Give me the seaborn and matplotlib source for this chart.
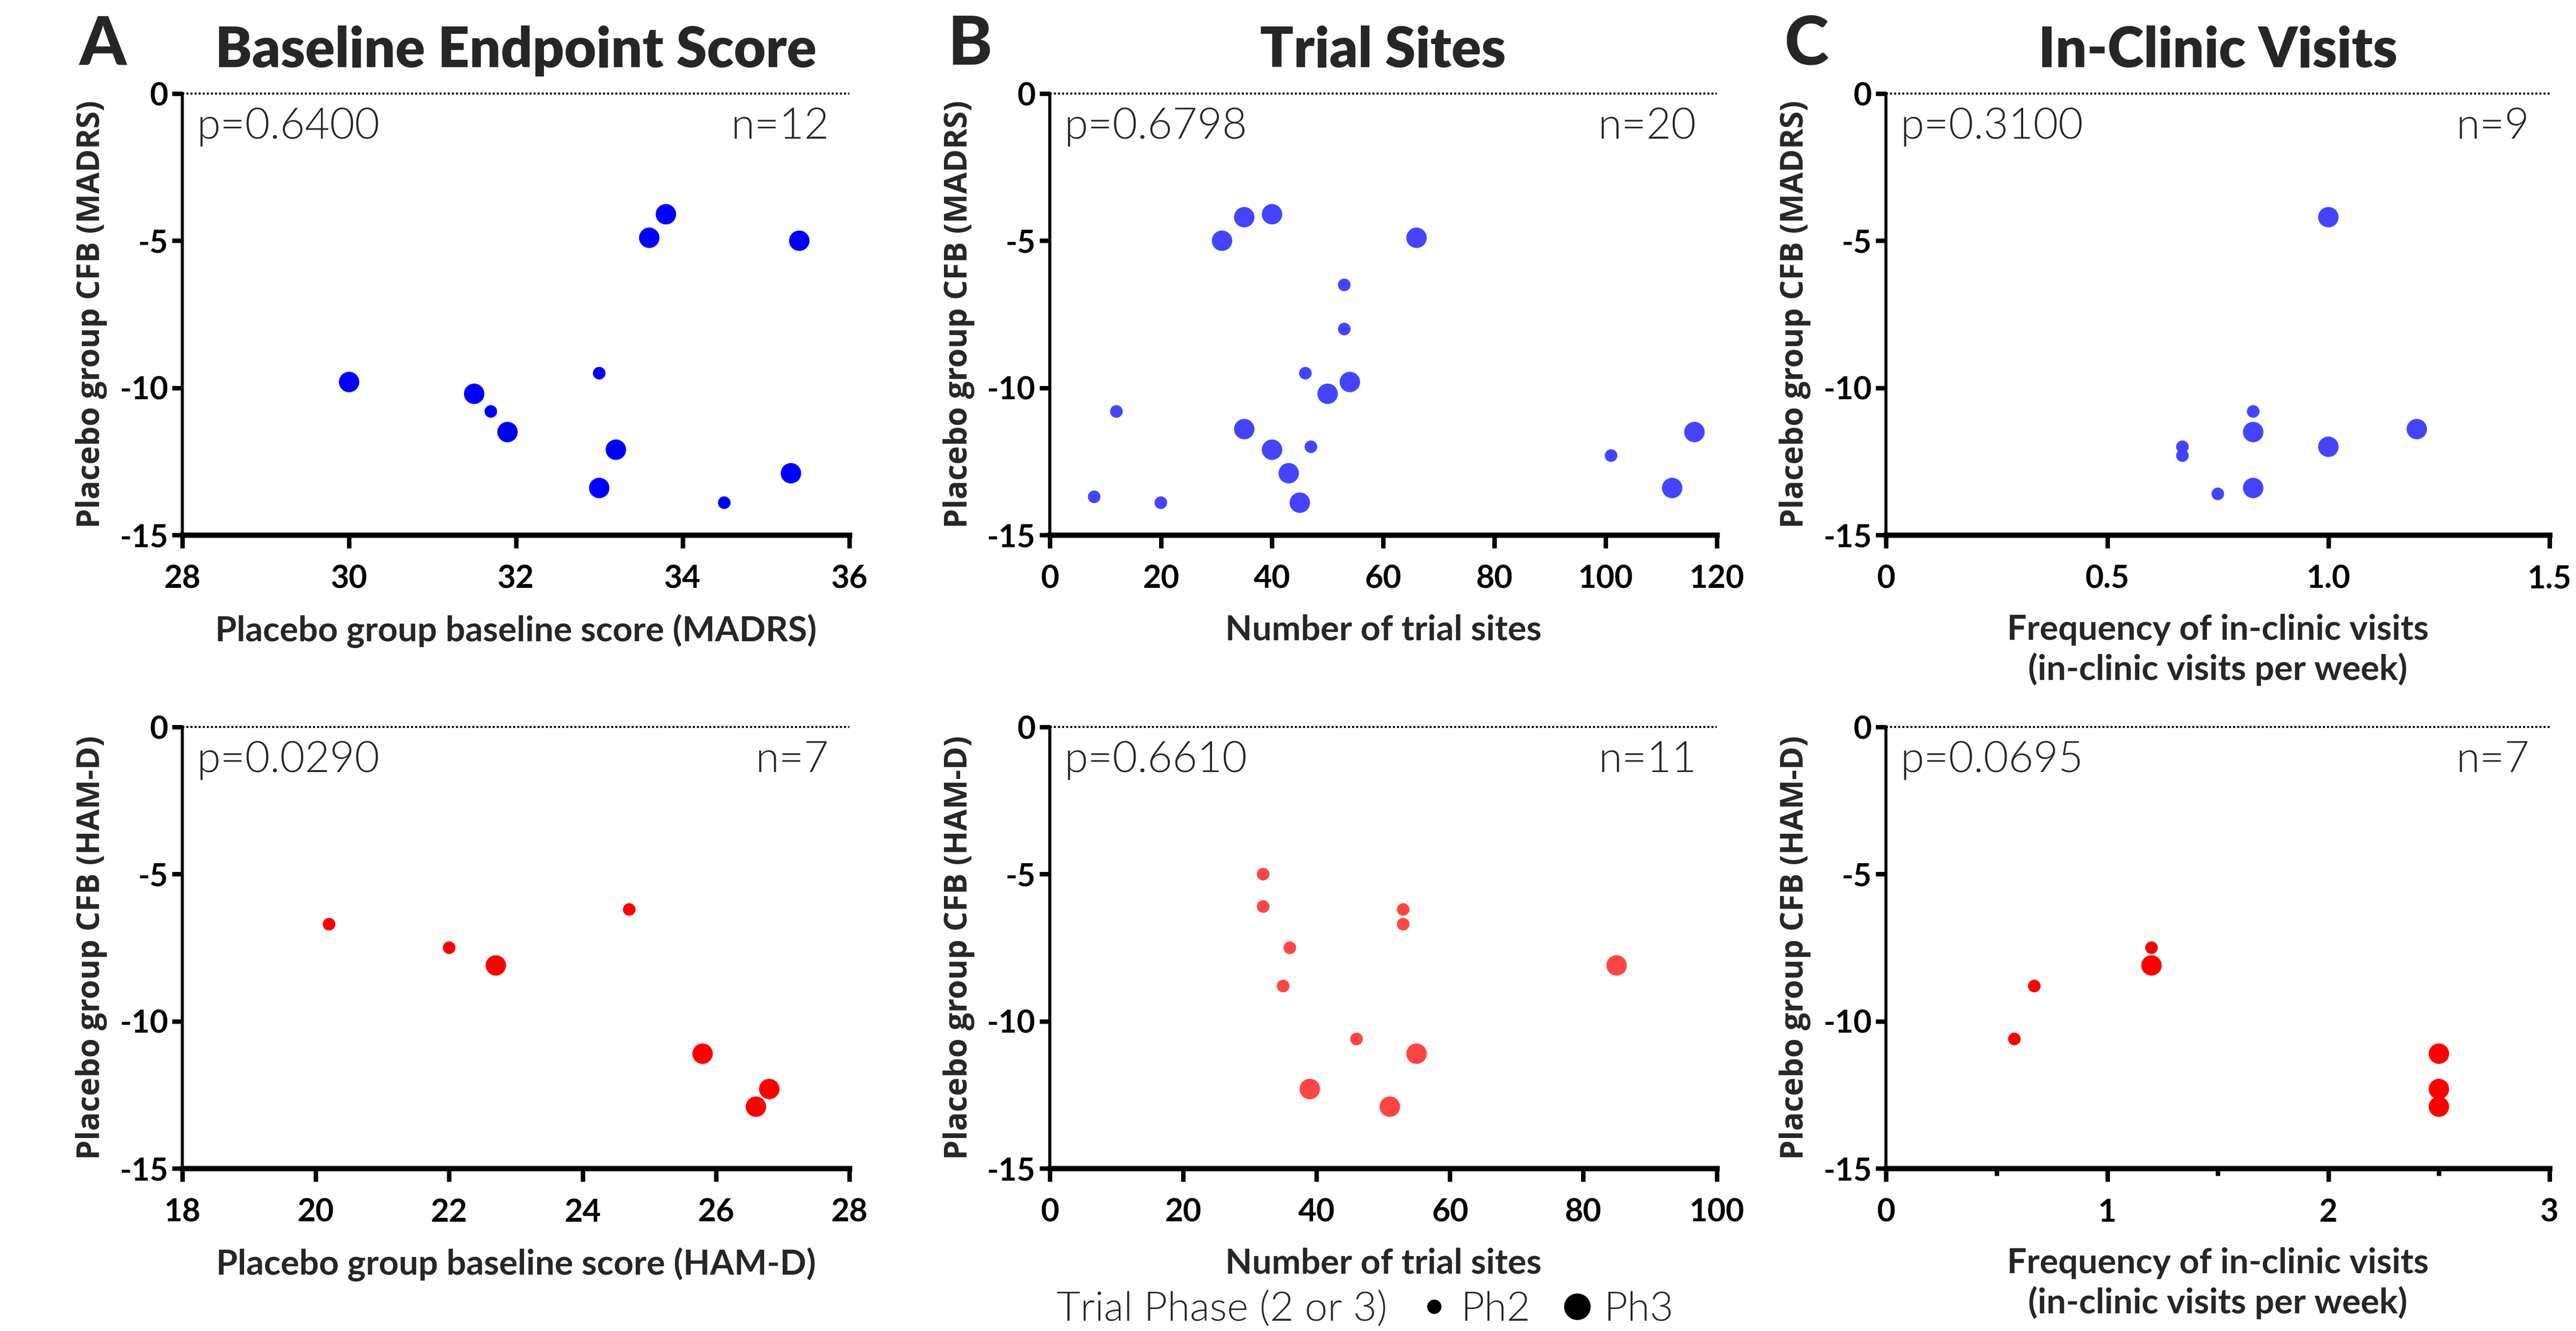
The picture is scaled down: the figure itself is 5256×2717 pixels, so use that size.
import numpy as np
import pandas as pd
import matplotlib
matplotlib.use("Agg")
import matplotlib.pyplot as plt
from matplotlib.lines import Line2D
from matplotlib.ticker import FixedLocator
import seaborn as sns

# ---------------- data ----------------
# Panel A (baseline score)
a_top_x = [30.0, 31.5, 31.7, 31.9, 33.0, 33.0, 33.2, 33.6, 33.8, 34.5, 35.3, 35.4]
a_top_y = [-9.8, -10.2, -10.8, -11.5, -9.5, -13.4, -12.1, -4.9, -4.1, -13.9, -12.9, -5.0]
a_top_ph = ["Ph3", "Ph3", "Ph2", "Ph3", "Ph2", "Ph3", "Ph3", "Ph3", "Ph3", "Ph2", "Ph3", "Ph3"]

a_bot_x = [20.2, 22.0, 22.7, 24.7, 25.8, 26.8, 26.6]
a_bot_y = [-6.7, -7.5, -8.1, -6.2, -11.1, -12.3, -12.9]
a_bot_ph = ["Ph2", "Ph2", "Ph3", "Ph2", "Ph3", "Ph3", "Ph3"]

# Panel B (trial sites)
b_top_x = [8, 12, 20, 31, 35, 40, 35, 40, 43, 45, 46, 47, 50, 53, 53, 54, 66, 101, 112, 116]
b_top_y = [-13.7, -10.8, -13.9, -5.0, -4.2, -4.1, -11.4, -12.1, -12.9, -13.9,
           -9.5, -12.0, -10.2, -6.5, -8.0, -9.8, -4.9, -12.3, -13.4, -11.5]
b_top_ph = ["Ph2", "Ph2", "Ph2", "Ph3", "Ph3", "Ph3", "Ph3", "Ph3", "Ph3", "Ph3",
            "Ph2", "Ph2", "Ph3", "Ph2", "Ph2", "Ph3", "Ph3", "Ph2", "Ph3", "Ph3"]

b_bot_x = [32, 32, 36, 35, 53, 53, 46, 55, 39, 51, 85]
b_bot_y = [-5.0, -6.1, -7.5, -8.8, -6.2, -6.7, -10.6, -11.1, -12.3, -12.9, -8.1]
b_bot_ph = ["Ph2", "Ph2", "Ph2", "Ph2", "Ph2", "Ph2", "Ph2", "Ph3", "Ph3", "Ph3", "Ph3"]

# Panel C (in-clinic visits per week)
c_top_x = [0.67, 0.67, 0.75, 0.83, 0.83, 0.83, 1.0, 1.0, 1.2]
c_top_y = [-12.0, -12.3, -13.6, -10.8, -11.5, -13.4, -4.2, -12.0, -11.4]
c_top_ph = ["Ph2", "Ph2", "Ph2", "Ph2", "Ph3", "Ph3", "Ph3", "Ph3", "Ph3"]

c_bot_x = [0.58, 0.67, 1.2, 1.2, 2.5, 2.5, 2.5]
c_bot_y = [-10.6, -8.8, -7.5, -8.1, -11.1, -12.3, -12.9]
c_bot_ph = ["Ph2", "Ph2", "Ph2", "Ph3", "Ph3", "Ph3", "Ph3"]

titles = ["Baseline Endpoint Score", "Trial Sites", "In-Clinic Visits"]
letters = ["A", "B", "C"]
p_top = ["p=0.6400", "p=0.6798", "p=0.3100"]
p_bot = ["p=0.0290", "p=0.6610", "p=0.0695"]
n_top = ["n=12", "n=20", "n=9"]
n_bot = ["n=7", "n=11", "n=7"]
xlabels_top = ["Placebo group baseline score (MADRS)", "Number of trial sites",
               "Frequency of in-clinic visits\n(in-clinic visits per week)"]
xlabels_bot = ["Placebo group baseline score (HAM-D)", "Number of trial sites",
               "Frequency of in-clinic visits\n(in-clinic visits per week)"]
ylabel_top = "Placebo group CFB (MADRS)"
ylabel_bot = "Placebo group CFB (HAM-D)"

xticks_top = [[28, 30, 32, 34, 36], [0, 20, 40, 60, 80, 100, 120], [0, 0.5, 1.0, 1.5]]
xticklabels_top = [["28", "30", "32", "34", "36"], ["0", "20", "40", "60", "80", "100", "120"],
                   ["0", "0.5", "1.0", "1.5"]]
xticks_bot = [[18, 20, 22, 24, 26, 28], [0, 20, 40, 60, 80, 100], [0, 1, 2, 3]]
xticklabels_bot = [["18", "20", "22", "24", "26", "28"], ["0", "20", "40", "60", "80", "100"],
                   ["0", "1", "2", "3"]]
yticks = [-15, -10, -5, 0]
yticklabels = ["-15", "-10", "-5", "0"]

colors_top = ["#0000FF", "#4444FF", "#4444FF"]
colors_bot = ["#FF0000", "#FF4444", "#FF0000"]

# ---------------- style ----------------
sns.set_style("white")
plt.rcParams["axes.unicode_minus"] = False
plt.rcParams["font.family"] = ["Lato", "DejaVu Sans"]

W, H = 5256, 2717
DPI = 300
fig = plt.figure(figsize=(W / DPI, H / DPI), dpi=DPI)

col_left = [0.0708, 0.4075, 0.7322]
col_w = [0.2589, 0.2589, 0.2575]
row_bottom = [0.598, 0.1221]
ax_h = 0.3317

sizes = {"Ph2": 38, "Ph3": 100}

top_sets = [(a_top_x, a_top_y, a_top_ph), (b_top_x, b_top_y, b_top_ph), (c_top_x, c_top_y, c_top_ph)]
bot_sets = [(a_bot_x, a_bot_y, a_bot_ph), (b_bot_x, b_bot_y, b_bot_ph), (c_bot_x, c_bot_y, c_bot_ph)]

LIGHT = 300


def style_axes(ax, xt, xtl, xlabel, ylabel, ptxt, ntxt, minor=None):
    ax.set_ylim(-15, 0)
    ax.set_xlim(xt[0], xt[-1])
    ax.set_xticks(xt)
    ax.set_xticklabels(xtl)
    ax.set_yticks(yticks)
    ax.set_yticklabels(yticklabels)
    if minor is not None:
        ax.xaxis.set_minor_locator(FixedLocator(minor))
        ax.tick_params(axis="x", which="minor", length=3.5, width=2.2, color="black", bottom=True)
    for s in ["top", "right"]:
        ax.spines[s].set_visible(False)
    ax.spines["left"].set_linewidth(1.5)
    ax.spines["bottom"].set_linewidth(2.6)
    ax.spines["left"].set_color("black")
    ax.spines["bottom"].set_color("black")
    ax.tick_params(axis="x", which="major", length=6.5, width=2.2, pad=8, direction="out",
                   labelsize=15.5, colors="black", bottom=True)
    ax.tick_params(axis="y", which="major", length=5, width=2.2, pad=2, direction="out",
                   labelsize=15.5, colors="black", left=True)
    for lab in ax.get_xticklabels() + ax.get_yticklabels():
        lab.set_fontweight("bold")
    ax.axhline(0, color="black", linestyle=(0, (1, 1)), linewidth=1.0, clip_on=False, zorder=5)
    ax.set_xlabel(xlabel, fontsize=17, fontweight="bold", labelpad=10, linespacing=1.25)
    ax.set_ylabel(ylabel, fontsize=15.3, fontweight="bold", labelpad=6,
                  family=["Open Sans", "DejaVu Sans"])
    ax.text(0.022, 0.925, ptxt, transform=ax.transAxes, fontsize=21, fontweight=LIGHT,
            ha="left", va="center")
    ax.text(0.97, 0.925, ntxt, transform=ax.transAxes, fontsize=21, fontweight=LIGHT,
            ha="right", va="center")


for i in range(3):
    # top row
    ax = fig.add_axes([col_left[i], row_bottom[0], col_w[i], ax_h])
    x, y, ph = top_sets[i]
    df = pd.DataFrame({"x": x, "y": y, "phase": ph})
    sns.scatterplot(data=df, x="x", y="y", size="phase", sizes=sizes, color=colors_top[i],
                    linewidth=0, legend=False, ax=ax, clip_on=False, zorder=4)
    style_axes(ax, xticks_top[i], xticklabels_top[i], xlabels_top[i], ylabel_top, p_top[i], n_top[i])
    ax.set_title(titles[i], fontsize=27, fontweight="heavy", pad=13)
    fig.text(col_left[i] - 0.031, 0.966, letters[i], fontsize=33, fontweight="black",
             ha="center", va="center")

    # bottom row
    ax = fig.add_axes([col_left[i], row_bottom[1], col_w[i], ax_h])
    x, y, ph = bot_sets[i]
    df = pd.DataFrame({"x": x, "y": y, "phase": ph})
    sns.scatterplot(data=df, x="x", y="y", size="phase", sizes=sizes, color=colors_bot[i],
                    linewidth=0, legend=False, ax=ax, clip_on=False, zorder=4)
    minor = [0.5, 1.5, 2.5] if i == 2 else None
    style_axes(ax, xticks_bot[i], xticklabels_bot[i], xlabels_bot[i], ylabel_bot, p_bot[i], n_bot[i],
               minor=minor)

# legend
handles = [
    Line2D([], [], linestyle="none", marker=None),
    Line2D([], [], linestyle="none", marker="o", markersize=7, color="black", markeredgewidth=0),
    Line2D([], [], linestyle="none", marker="o", markersize=13, color="black", markeredgewidth=0),
]
labels = ["Trial Phase (2 or 3)", "Ph2", "Ph3"]
leg = fig.legend(handles, labels, loc="center", bbox_to_anchor=(0.522, 0.016), ncol=3,
                 frameon=False, handlelength=0.7, handletextpad=0.3, columnspacing=0.8,
                 borderpad=0, prop={"family": ["Lato", "DejaVu Sans"], "weight": LIGHT, "size": 20})

fig.savefig("out.png", dpi=DPI, facecolor="white")
